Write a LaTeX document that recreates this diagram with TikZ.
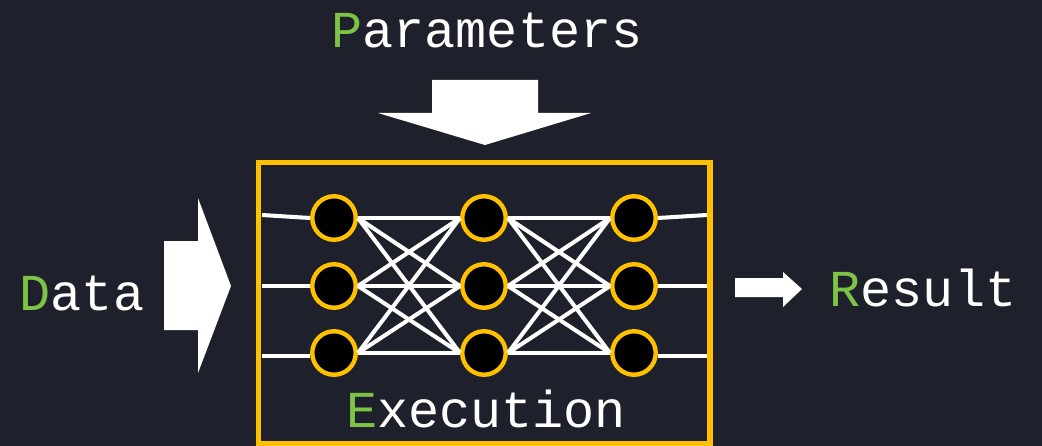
\documentclass[tikz,border=0pt]{standalone}
\usepackage{fontspec}
\setmonofont{Liberation Mono}
\usepackage{tikz}
\usetikzlibrary{positioning}

\definecolor{bgdark}{RGB}{30,32,43}
\definecolor{gold}{RGB}{255,192,0}
\definecolor{leaf}{RGB}{125,195,70}

\begin{document}
\begin{tikzpicture}[
    x=0.02cm, y=-0.02cm,
    word/.style={text=white, font=\ttfamily\fontsize{29.5}{30}\selectfont, inner sep=0, anchor=base},
    neuron/.style={circle, draw=gold, fill=black, line width=2.5pt, minimum size=0.87cm, inner sep=0},
    synapse/.style={draw=white, line width=2.3pt},
    frame/.style={draw=gold, line width=3.4pt},
    blockarrow/.style={fill=white}
]

% Background
\fill[bgdark] (0,0) rectangle (1042,446);
\useasboundingbox (0,0) rectangle (1042,446);

% Labels
\node[word] (params) at (487,48) {{\color{leaf}P}arameters};
\node[word] (data) at (82,310) {{\color{leaf}D}ata};
\node[word] (result) at (923,306) {{\color{leaf}R}esult};
\node[word] (exec) at (486,427) {{\color{leaf}E}xecution};

% Execution frame
\draw[frame] (258.5,162.5) rectangle (710,444);

% Block arrows
\fill[blockarrow] (432,80) -- (538,80) -- (538,113) -- (591,113) -- (485,145)
    -- (378,113) -- (432,113) -- cycle;
\fill[blockarrow] (164,241) -- (198,241) -- (198,198) -- (231,286) -- (198,373)
    -- (198,330) -- (164,330) -- cycle;
\fill[blockarrow] (735,278) -- (783,278) -- (783,272) -- (802,289) -- (783,307)
    -- (783,297) -- (735,297) -- cycle;

% Input layer
\node[neuron] (in_top) at (334,218) {};
\node[neuron] (in_mid) at (334,286) {};
\node[neuron] (in_bot) at (334,353) {};

% Hidden layer
\node[neuron] (hid_top) at (484,218) {};
\node[neuron] (hid_mid) at (484,286) {};
\node[neuron] (hid_bot) at (484,353) {};

% Output layer
\node[neuron] (out_top) at (634,218) {};
\node[neuron] (out_mid) at (634,286) {};
\node[neuron] (out_bot) at (634,353) {};

% Frame contact points
\coordinate (feed_top) at (262,215);
\coordinate (feed_mid) at (262,286);
\coordinate (feed_bot) at (262,356);
\coordinate (emit_top) at (707,215);
\coordinate (emit_mid) at (707,286);
\coordinate (emit_bot) at (707,356);

% Incoming lines
\draw[synapse] (feed_top) -- (in_top.west);
\draw[synapse] (feed_mid) -- (in_mid.west);
\draw[synapse] (feed_bot) -- (feed_bot -| in_bot.west);

% Input to hidden
\draw[synapse] (in_top.east) -- (hid_top.west);
\draw[synapse] (in_top.east) -- (hid_mid.west);
\draw[synapse] (in_top.east) -- (hid_bot.west);
\draw[synapse] (in_mid.east) -- (hid_top.west);
\draw[synapse] (in_mid.east) -- (hid_mid.west);
\draw[synapse] (in_mid.east) -- (hid_bot.west);
\draw[synapse] (in_bot.east) -- (hid_top.west);
\draw[synapse] (in_bot.east) -- (hid_mid.west);
\draw[synapse] (in_bot.east) -- (hid_bot.west);

% Hidden to output
\draw[synapse] (hid_top.east) -- (out_top.west);
\draw[synapse] (hid_top.east) -- (out_mid.west);
\draw[synapse] (hid_top.east) -- (out_bot.west);
\draw[synapse] (hid_mid.east) -- (out_top.west);
\draw[synapse] (hid_mid.east) -- (out_mid.west);
\draw[synapse] (hid_mid.east) -- (out_bot.west);
\draw[synapse] (hid_bot.east) -- (out_top.west);
\draw[synapse] (hid_bot.east) -- (out_mid.west);
\draw[synapse] (hid_bot.east) -- (out_bot.west);

% Outgoing lines
\draw[synapse] (out_top.east) -- (emit_top);
\draw[synapse] (out_mid.east) -- (emit_mid);
\draw[synapse] (emit_bot -| out_bot.east) -- (emit_bot);

\end{tikzpicture}
\end{document}
